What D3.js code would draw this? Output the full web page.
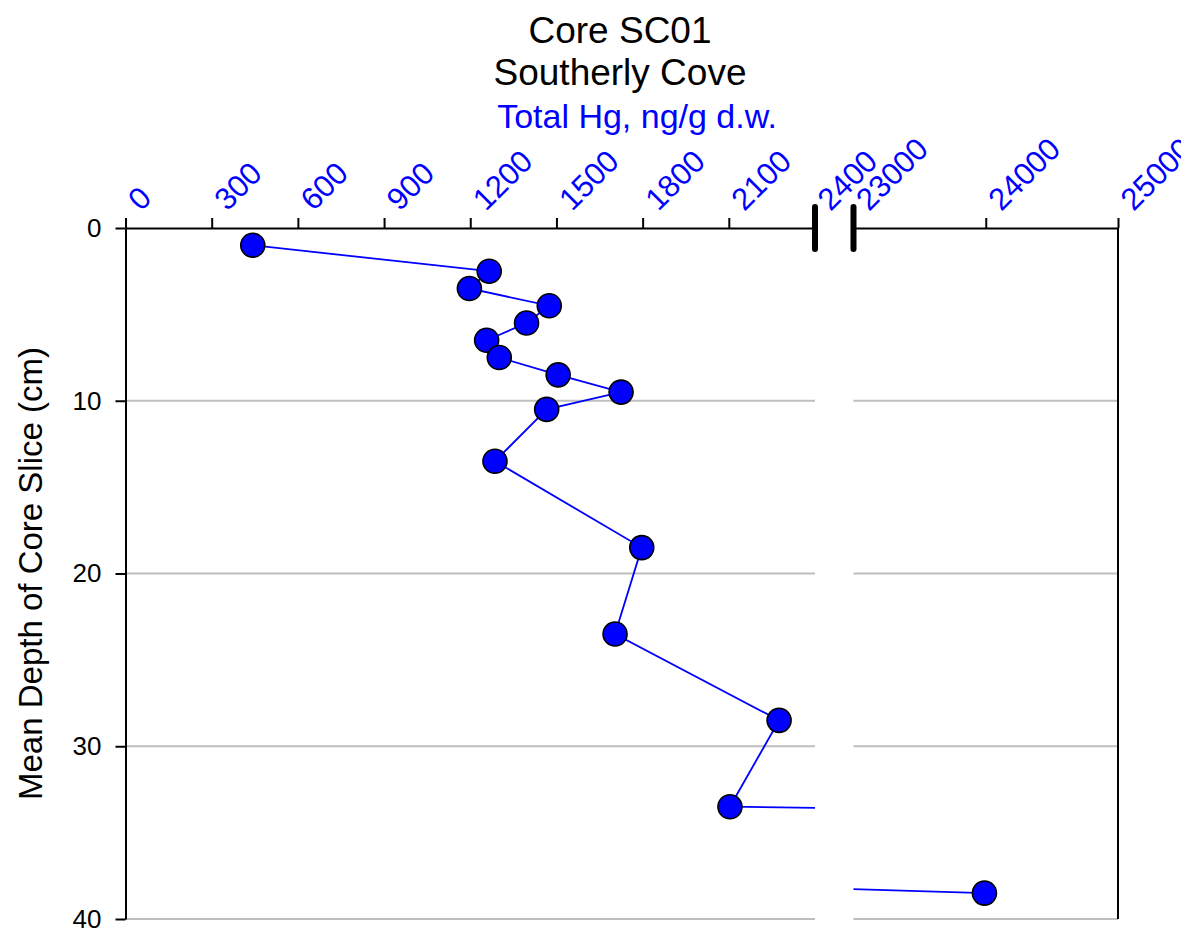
<!DOCTYPE html>
<html>
<head>
<meta charset="utf-8">
<script src="https://cdn.jsdelivr.net/npm/d3@7"></script>
<style>
  body { margin: 0; background: #fff; }
  svg { display: block; }
  text { font-family: "Liberation Sans", Arial, Helvetica, sans-serif; }
</style>
</head>
<body>
<svg id="chart" width="1181" height="932"></svg>
<script>
// Mean depth of each core slice (cm)
const depths = [1, 2.5, 3.5, 4.5, 5.5, 6.5, 7.5, 8.5, 9.5, 10.5, 13.5, 18.5, 23.5, 28.5, 33.5, 38.5];
// Total Hg concentration (ng/g dry weight) for each slice
const totalHg = [443, 1266, 1197, 1475, 1396, 1257, 1301, 1506, 1725, 1466, 1286, 1797, 1704, 2275, 2104, 23990];

// Broken x axis: a low range and a high range
const lowDomain = [0, 2400];
const highDomain = [23000, 25000];
const lowTicks = [0, 300, 600, 900, 1200, 1500, 1800, 2100, 2400];
const highTicks = [23000, 24000, 25000];
const depthTicks = [0, 10, 20, 30, 40];
const gridDepths = [10, 20, 30, 40];

const titleLines = ["Core SC01", "Southerly Cove"];
const xTitle = "Total Hg, ng/g d.w.";
const yTitle = "Mean Depth of Core Slice (cm)";

const svg = d3.select("#chart");
const plotTop = 228, plotBottom = 919;
const leftX0 = 125.5, leftX1 = 815;
const rightX0 = 853.5, rightX1 = 1118;

const y = d3.scaleLinear().domain([0, 40]).range([plotTop, plotBottom]);
const xLow = d3.scaleLinear().domain(lowDomain).range([leftX0, leftX1]);
const xHigh = d3.scaleLinear().domain(highDomain).range([rightX0, rightX1]);

const data = depths.map((d, i) => ({ depth: d, hg: totalHg[i] }));

// clip regions for the two panels
const defs = svg.append("defs");
defs.append("clipPath").attr("id", "clipLow").append("rect")
  .attr("x", leftX0).attr("y", 0).attr("width", leftX1 - leftX0).attr("height", 932);
defs.append("clipPath").attr("id", "clipHigh").append("rect")
  .attr("x", rightX0).attr("y", 0).attr("width", rightX1 - rightX0).attr("height", 932);

const panels = [
  { x: xLow, x0: leftX0, x1: leftX1, clip: "url(#clipLow)", inRange: v => v <= lowDomain[1] },
  { x: xHigh, x0: rightX0, x1: rightX1, clip: "url(#clipHigh)", inRange: v => v >= highDomain[0] }
];

// horizontal grid lines
panels.forEach(p => {
  svg.append("g").selectAll("line").data(gridDepths).join("line")
    .attr("x1", p.x0).attr("x2", p.x1)
    .attr("y1", d => y(d)).attr("y2", d => y(d))
    .attr("stroke", "#bebebe").attr("stroke-width", 2);
});

// profile line, drawn in each panel and clipped to it
panels.forEach(p => {
  const line = d3.line().x(d => p.x(d.hg)).y(d => y(d.depth));
  svg.append("path")
    .datum(data)
    .attr("clip-path", p.clip)
    .attr("d", line)
    .attr("fill", "none")
    .attr("stroke", "#0000ff")
    .attr("stroke-width", 1.8);
});

// left (depth) axis
const yAxis = d3.axisLeft(y).tickValues(depthTicks).tickSize(10).tickSizeOuter(0).tickPadding(14);
const gy = svg.append("g").attr("transform", `translate(${leftX0},0)`).call(yAxis);
gy.select(".domain").attr("stroke", "#000").attr("stroke-width", 2);
gy.selectAll(".tick line").attr("stroke", "#000").attr("stroke-width", 2);
gy.selectAll(".tick text").attr("font-size", 26).attr("fill", "#000")
  .attr("font-family", "Liberation Sans, Arial, sans-serif");

// right border line
svg.append("line")
  .attr("x1", rightX1).attr("x2", rightX1).attr("y1", plotTop).attr("y2", plotBottom)
  .attr("stroke", "#000").attr("stroke-width", 2);

// top (concentration) axes
function topAxis(scale, ticks) {
  const ax = d3.axisTop(scale).tickValues(ticks).tickSize(10).tickSizeOuter(0).tickFormat(d3.format("d"));
  const g = svg.append("g").attr("transform", `translate(0,${plotTop})`).call(ax);
  g.select(".domain").attr("stroke", "#000").attr("stroke-width", 2);
  g.selectAll(".tick line").attr("stroke", "#000").attr("stroke-width", 2);
  g.selectAll(".tick text")
    .attr("font-size", 31)
    .attr("fill", "#0000ff")
    .attr("font-family", "Liberation Sans, Arial, sans-serif")
    .attr("text-anchor", "start")
    .attr("x", 0).attr("y", 0).attr("dy", 0)
    .attr("transform", "translate(15,-16) rotate(-45)");
  return g;
}
topAxis(xLow, lowTicks);
topAxis(xHigh, highTicks);

// axis break marks
[leftX1, rightX0].forEach(bx => {
  svg.append("line")
    .attr("x1", bx).attr("x2", bx).attr("y1", plotTop - 21).attr("y2", plotTop + 21)
    .attr("stroke", "#000").attr("stroke-width", 6).attr("stroke-linecap", "round");
});

// markers
panels.forEach(p => {
  svg.append("g").selectAll("circle")
    .data(data.filter(d => p.inRange(d.hg)))
    .join("circle")
    .attr("cx", d => p.x(d.hg))
    .attr("cy", d => y(d.depth))
    .attr("r", 12)
    .attr("fill", "#0000ff")
    .attr("stroke", "#000")
    .attr("stroke-width", 1.6);
});

// titles
svg.append("g").selectAll("text").data(titleLines).join("text")
  .attr("x", 620).attr("y", (d, i) => 43 + i * 42)
  .attr("text-anchor", "middle").attr("font-size", 37).attr("fill", "#000")
  .text(d => d);

svg.append("text")
  .attr("x", 637).attr("y", 128)
  .attr("text-anchor", "middle").attr("font-size", 34).attr("fill", "#0000ff")
  .text(xTitle);

svg.append("text")
  .attr("transform", `translate(42,${(plotTop + plotBottom) / 2}) rotate(-90)`)
  .attr("text-anchor", "middle").attr("font-size", 33).attr("fill", "#000")
  .text(yTitle);
</script>
</body>
</html>
